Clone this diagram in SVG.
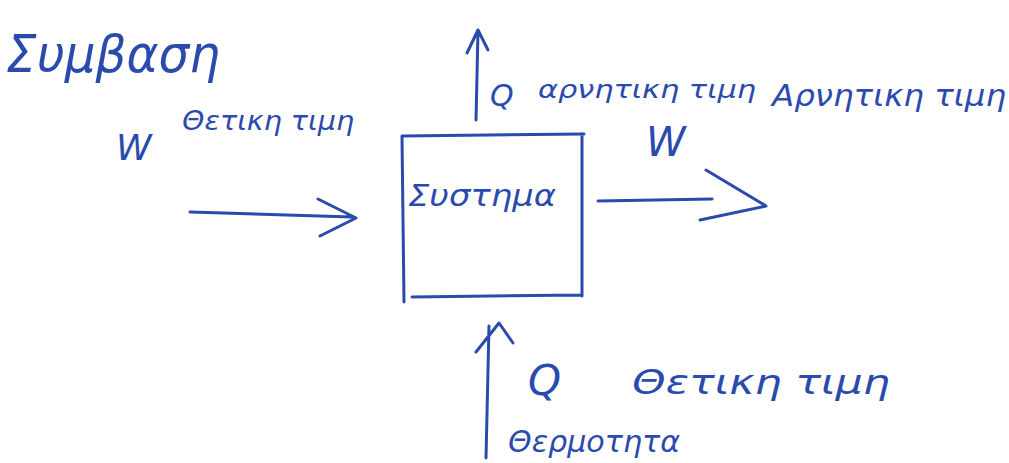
<svg xmlns="http://www.w3.org/2000/svg" width="1009" height="463" viewBox="0 0 1009 463">
<style>
.ink{fill:none;stroke:#2a4aad;stroke-width:3;stroke-linecap:round;stroke-linejoin:round}
.t{fill:#2a4aad;font-family:"DejaVu Sans","Liberation Sans",sans-serif;font-style:italic}
</style>
<rect width="1009" height="463" fill="#ffffff"/>
<g id="title"><text class="t" x="6" y="72" font-size="52" textLength="214" lengthAdjust="spacingAndGlyphs">Συμβαση</text></g>
<g id="w-left-label">
<text class="t" x="116" y="160" font-size="36">W</text>
<text class="t" x="182" y="130" font-size="26" textLength="172" lengthAdjust="spacingAndGlyphs">Θετικη τιμη</text>
</g>
<g id="system">
<path class="ink" d="M402 136 L584 134 M402 136 L404 302 M582 134 L582 296 M412 297 L582 295"/>
<text class="t" x="408" y="206" font-size="30" textLength="148" lengthAdjust="spacingAndGlyphs">Συστημα</text>
</g>
<g id="q-top-label">
<text class="t" x="490" y="106" font-size="30">Q</text>
<text class="t" x="538" y="98" font-size="24" textLength="218" lengthAdjust="spacingAndGlyphs">αρνητικη τιμη</text>
</g>
<g id="w-right-label">
<text class="t" x="772" y="106" font-size="30" textLength="234" lengthAdjust="spacingAndGlyphs">Αρνητικη τιμη</text>
<text class="t" x="646" y="156" font-size="40">W</text>
</g>
<g id="q-bottom-label">
<text class="t" x="528" y="395" font-size="42">Q</text>
<text class="t" x="632" y="394" font-size="34" textLength="258" lengthAdjust="spacingAndGlyphs">Θετικη τιμη</text>
<text class="t" x="508" y="452" font-size="30" textLength="172" lengthAdjust="spacingAndGlyphs">Θερμοτητα</text>
</g>
<g id="connectors">
<path class="ink" d="M190 212 L352 217 M318 199 L356 218 L320 236"/>
<path class="ink" d="M598 201 L712 199 M706 170 L766 206 L700 220"/>
<path class="ink" d="M476 120 L478 30 M467 53 L478 30 L488 50"/>
<path class="ink" d="M486 458 L489 326 M476 352 L499 323 L513 343"/>
</g>
</svg>
